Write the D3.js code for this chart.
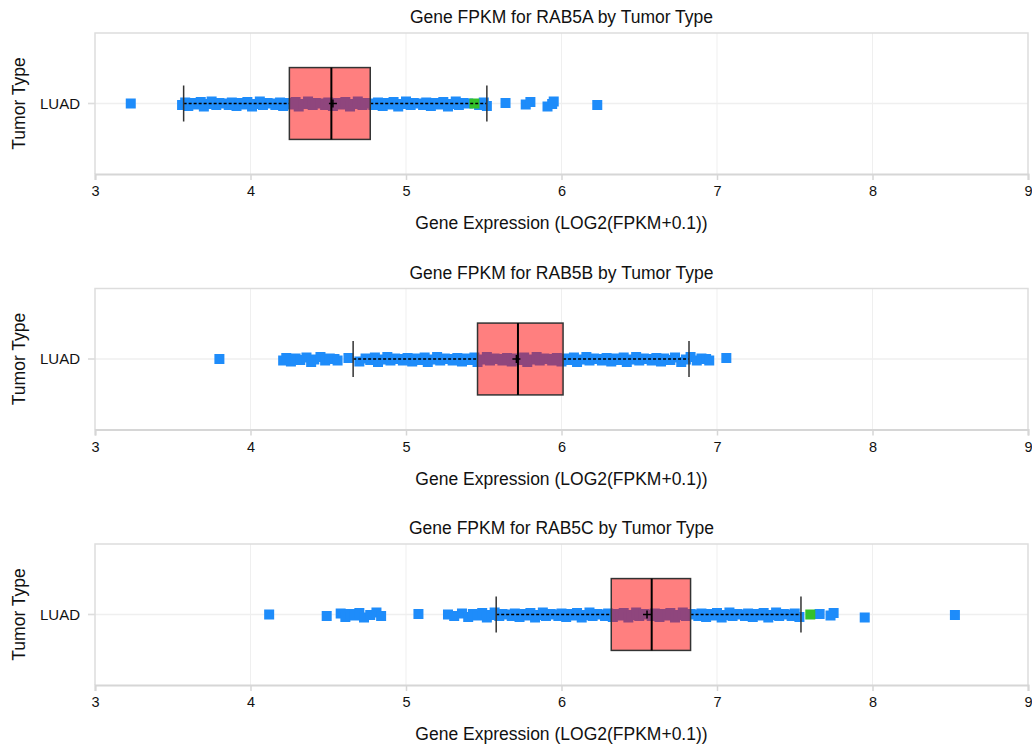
<!DOCTYPE html>
<html lang="en">
<head>
  <meta charset="UTF-8" />
  <title>Gene FPKM by Tumor Type</title>
  <script src="https://d3js.org/d3.v7.min.js"></script>
  <style>
    body { margin: 0; background: #fff; }
    svg { display: block; font-family: "Liberation Sans", Arial, sans-serif; }
    .title, .axis-label { font-size: 17.5px; fill: #111; text-anchor: middle; }
    .cat-label { font-size: 15px; fill: #111; text-anchor: end; }
  </style>
</head>
<body>
<svg id="chart" width="1032" height="746"></svg>
<script>
const genes = ["RAB5A", "RAB5B", "RAB5C"];
const tumorTypes = ["LUAD"];
const xTicks = [3, 4, 5, 6, 7, 8, 9];

// box statistics per gene
const q1 = [4.25, 5.46, 6.32];
const medians = [4.52, 5.72, 6.58];
const q3 = [4.77, 6.01, 6.83];
const whiskerLow = [3.57, 4.66, 5.58];
const whiskerHigh = [5.52, 6.82, 7.54];
const means = [4.53, 5.71, 6.55];

// sample values (blue) per gene
const samplesA = [3.23,
  3.56, 3.58, 3.60, 3.63, 3.65, 3.68, 3.70, 3.73, 3.75, 3.78, 3.80, 3.83, 3.86, 3.88, 3.91, 3.93,
  3.96, 3.98, 4.01, 4.03, 4.06, 4.08, 4.11, 4.13, 4.16, 4.19, 4.21, 4.24, 4.26, 4.29, 4.31, 4.34,
  4.37, 4.40, 4.42, 4.45, 4.48, 4.50, 4.53, 4.56, 4.58, 4.61, 4.64, 4.66, 4.69, 4.72, 4.74, 4.77,
  4.79, 4.82, 4.85, 4.87, 4.90, 4.92, 4.95, 4.98, 5.00, 5.03, 5.05, 5.08, 5.11, 5.13, 5.16, 5.19,
  5.21, 5.24, 5.27, 5.29, 5.32, 5.34, 5.37, 5.40, 5.47, 5.50, 5.52,
  5.64, 5.77, 5.80, 5.91, 5.94, 5.95, 6.23];
const samplesB = [3.80,
  4.21, 4.23, 4.26, 4.29, 4.32, 4.36, 4.39, 4.41, 4.45, 4.48, 4.51, 4.54, 4.56, 4.63, 4.70,
  4.74, 4.77, 4.80, 4.82, 4.85, 4.88, 4.90, 4.93, 4.96, 4.98, 5.01, 5.04, 5.06, 5.09, 5.12, 5.14,
  5.17, 5.20, 5.22, 5.25, 5.28, 5.30, 5.33, 5.36, 5.38, 5.41, 5.44, 5.46, 5.49, 5.52, 5.54, 5.57,
  5.60, 5.62, 5.65, 5.68, 5.70, 5.73, 5.76, 5.78, 5.81, 5.84, 5.86, 5.89, 5.92, 5.94, 5.97, 6.00,
  6.02, 6.05, 6.08, 6.10, 6.13, 6.16, 6.18, 6.21, 6.24, 6.26, 6.29, 6.32, 6.34, 6.37, 6.40, 6.42,
  6.45, 6.48, 6.50, 6.53, 6.56, 6.58, 6.61, 6.64, 6.66,
  6.70, 6.73, 6.77, 6.80, 6.83, 6.87, 6.90, 6.93, 6.95, 7.06];
const samplesC = [4.12, 4.49,
  4.58, 4.61, 4.64, 4.67, 4.70, 4.73, 4.77, 4.81, 4.84, 5.08, 5.27, 5.31,
  5.36, 5.40, 5.43, 5.46, 5.49, 5.52, 5.55, 5.57,
  5.60, 5.62, 5.65, 5.68, 5.70, 5.73, 5.75, 5.78, 5.80, 5.83, 5.85, 5.88, 5.90, 5.93, 5.95, 5.98,
  6.00, 6.03, 6.05, 6.08, 6.10, 6.13, 6.15, 6.18, 6.20, 6.23, 6.25, 6.28, 6.30, 6.33, 6.35, 6.38,
  6.40, 6.43, 6.45, 6.48, 6.50, 6.53, 6.55, 6.58, 6.60, 6.63, 6.65, 6.68, 6.70, 6.73, 6.75, 6.78,
  6.80, 6.83, 6.85, 6.88, 6.90, 6.93, 6.95, 6.98, 7.00, 7.03, 7.05, 7.08, 7.10, 7.13, 7.15, 7.18,
  7.20, 7.23, 7.25, 7.28, 7.30, 7.33, 7.35, 7.38, 7.40, 7.43, 7.45, 7.48, 7.50, 7.53,
  7.66, 7.73, 7.75, 7.95, 8.53];
const samples = [samplesA, samplesB, samplesC];

// a few highlighted samples (green)
const highlights = [[5.44], [], [7.60]];

// small vertical scatter applied to points by index
const jitter = [0, 1.5, -1, 2.5, -0.5, 1, -1.5, 3, 0.5, -2, 1.5, -0.5];

const svg = d3.select("#chart");
const left = 95, right = 1028, plotH = 141, firstTop = 33, step = 255.5;

const x = d3.scaleLinear().domain([3, 9]).range([left, right]);
const y = d3.scaleBand().domain(tumorTypes).range([0, plotH]).padding(0.325);
const cy = y("LUAD") + y.bandwidth() / 2;
const sq = 10;

genes.forEach((gene, i) => {
  const g = svg.append("g").attr("transform", `translate(0,${firstTop + i * step})`);

  // title
  g.append("text").attr("class", "title")
    .attr("x", (left + right) / 2).attr("y", -10)
    .text(`Gene FPKM for ${gene} by Tumor Type`);

  // grid
  g.selectAll("line.vgrid").data(xTicks.slice(1, -1)).enter().append("line")
    .attr("x1", d => x(d)).attr("x2", d => x(d))
    .attr("y1", 0).attr("y2", plotH)
    .attr("stroke", "#efefef").attr("stroke-width", 1);
  g.append("line")
    .attr("x1", left - 7).attr("x2", right)
    .attr("y1", cy).attr("y2", cy)
    .attr("stroke", "#efefef").attr("stroke-width", 1.5);
  g.append("line")
    .attr("x1", left - 7).attr("x2", left)
    .attr("y1", cy).attr("y2", cy)
    .attr("stroke", "#ddd").attr("stroke-width", 1.5);

  // frame
  g.append("path")
    .attr("d", `M${left},${plotH}V0H${right}V${plotH}`)
    .attr("fill", "none").attr("stroke", "#ddd").attr("stroke-width", 1.5);

  // bottom axis
  const axis = g.append("g").attr("transform", `translate(0,${plotH})`)
    .call(d3.axisBottom(x).tickValues(xTicks).tickSize(6).tickFormat(d3.format("d")));
  axis.attr("font-size", null).attr("font-family", null);
  axis.select(".domain").attr("stroke", "#d6d6d6").attr("stroke-width", 2);
  axis.selectAll(".tick line").attr("stroke", "#d6d6d6").attr("stroke-width", 1.5);
  axis.selectAll(".tick text").attr("y", 12).attr("dy", "0.71em")
    .style("font-size", "14.5px").style("fill", "#111");

  g.append("text").attr("class", "axis-label")
    .attr("x", (left + right) / 2).attr("y", plotH + 55)
    .text("Gene Expression (LOG2(FPKM+0.1))");

  // y labels
  g.append("text").attr("class", "cat-label")
    .attr("x", left - 15).attr("y", cy).attr("dy", "0.36em").text("LUAD");
  g.append("text").attr("class", "axis-label")
    .attr("transform", `translate(25,${cy}) rotate(-90)`)
    .text("Tumor Type");

  // points
  g.selectAll("rect.pt").data(samples[i]).enter().append("rect")
    .attr("x", d => x(d) - sq / 2)
    .attr("y", (d, j) => cy - sq / 2 + jitter[j % jitter.length])
    .attr("width", sq).attr("height", sq)
    .attr("fill", "#1E8CFA");
  g.selectAll("rect.hl").data(highlights[i]).enter().append("rect")
    .attr("x", d => x(d) - sq / 2).attr("y", cy - sq / 2)
    .attr("width", sq).attr("height", sq)
    .attr("fill", "#33C12B");

  // whiskers
  [[whiskerLow[i], q1[i]], [q3[i], whiskerHigh[i]]].forEach(([a, b]) => {
    g.append("line")
      .attr("x1", x(a)).attr("x2", x(b)).attr("y1", cy).attr("y2", cy)
      .attr("stroke", "#000").attr("stroke-width", 1.6).attr("stroke-dasharray", "3,2");
  });
  [whiskerLow[i], whiskerHigh[i]].forEach(v => {
    g.append("line")
      .attr("x1", x(v)).attr("x2", x(v)).attr("y1", cy - 18).attr("y2", cy + 18)
      .attr("stroke", "#333").attr("stroke-width", 1.5);
  });

  // box
  g.append("rect")
    .attr("x", x(q1[i])).attr("width", x(q3[i]) - x(q1[i]))
    .attr("y", y("LUAD")).attr("height", y.bandwidth())
    .attr("fill", "rgba(255,0,0,0.5)").attr("stroke", "#333").attr("stroke-width", 1.5);
  g.append("line")
    .attr("x1", x(medians[i])).attr("x2", x(medians[i]))
    .attr("y1", y("LUAD")).attr("y2", y("LUAD") + y.bandwidth())
    .attr("stroke", "#000").attr("stroke-width", 2);

  // mean marker
  g.append("path")
    .attr("d", `M${x(means[i]) - 4},${cy}h8M${x(means[i])},${cy - 4}v8`)
    .attr("stroke", "#000").attr("stroke-width", 1.5);
});
</script>
</body>
</html>
